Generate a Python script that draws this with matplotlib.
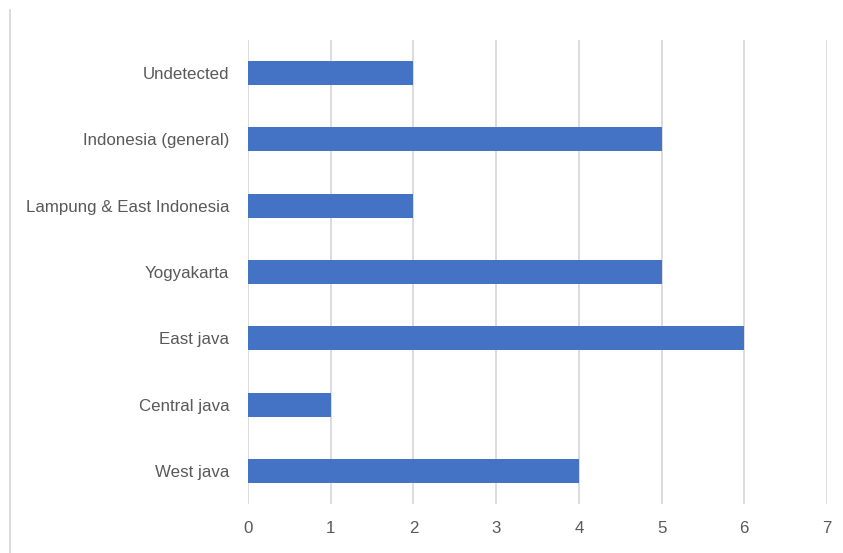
import matplotlib.pyplot as plt
from matplotlib.lines import Line2D

# data, bottom to top as drawn
regions = ['West java', 'Central java', 'East java', 'Yogyakarta',
           'Lampung & East Indonesia', 'Indonesia (general)', 'Undetected']
counts = [4, 1, 6, 5, 2, 5, 2]

plt.rcParams['font.family'] = ['Liberation Sans', 'DejaVu Sans']

fig = plt.figure(figsize=(8.43, 5.53), dpi=100)
ax = fig.add_axes([248 / 843, 1 - 504 / 553, (827 - 248) / 843, (504 - 40) / 553])

ax.barh(range(len(regions)), counts, height=0.36, color='#4472c4', zorder=3)

ax.set_xlim(0, 7)
ax.set_ylim(-0.5, len(regions) - 0.5)
ax.set_xticks(range(0, 8))
ax.set_yticks(range(len(regions)))
ax.set_yticklabels(regions)
ax.grid(axis='x', color='#d9d9d9', linewidth=1.3, zorder=0)
for s in ax.spines.values():
    s.set_visible(False)
ax.tick_params(length=0, colors='#595959', labelsize=12.2)
ax.tick_params(axis='x', pad=12)
ax.tick_params(axis='y', pad=13.5)

# chart border remnant on the left
fig.add_artist(Line2D([10 / 843, 10 / 843], [0, 1 - 10 / 553],
                      color='#d9d9d9', linewidth=1.3))

fig.savefig('out.png', dpi=100)
